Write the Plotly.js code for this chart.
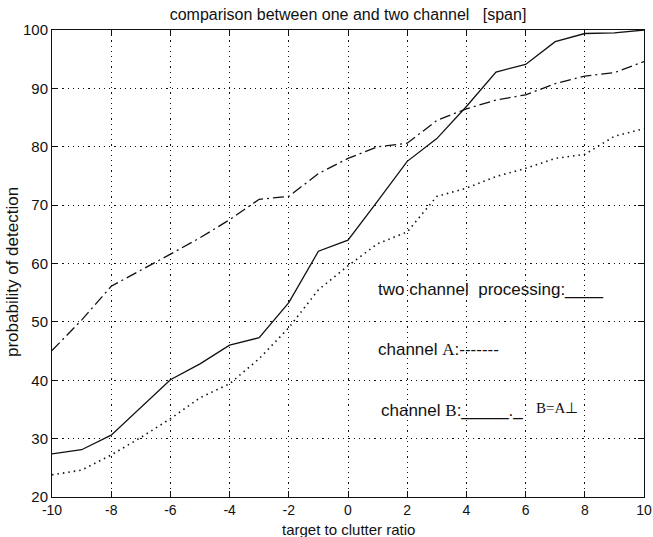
<!DOCTYPE html>
<html>
<head>
<meta charset="utf-8">
<script src="https://cdn.plot.ly/plotly-3.0.1.min.js"></script>
<style>
  html, body { margin: 0; padding: 0; background: #fff; }
  #chart { width: 653px; height: 537px; }
</style>
</head>
<body>
<div id="chart"></div>
<script>
// target to clutter ratio
const ratio = [-10, -9, -8, -7, -6, -5, -4, -3, -2, -1, 0, 1, 2, 3, 4, 5, 6, 7, 8, 9, 10];

// probability of detection for each processing scheme
const twoChannel = [27.4, 28.1, 30.6, 35.3, 40.1, 42.8, 46.0, 47.3, 53.3, 62.1, 64.0,
                    70.7, 77.5, 81.4, 86.9, 92.8, 94.1, 98.0, 99.4, 99.5, 100];
const channelB   = [45.1, 50.3, 56.1, 58.8, 61.6, 64.4, 67.5, 71.0, 71.5, 75.4, 78.0,
                    80.0, 80.6, 84.5, 86.5, 88.0, 88.9, 90.8, 92.1, 92.7, 94.6];
const channelA   = [23.8, 24.6, 27.2, 30.2, 33.4, 37.0, 39.4, 43.7, 49.0, 55.5, 59.6,
                    63.4, 65.4, 71.5, 72.9, 74.9, 76.3, 78.0, 78.7, 81.8, 83.1];

const xTicks = [-10, -8, -6, -4, -2, 0, 2, 4, 6, 8, 10];
const yTicks = [20, 30, 40, 50, 60, 70, 80, 90, 100];

const SANS = 'Liberation Sans, Arial, Helvetica, sans-serif';
const SERIF = 'Liberation Serif, Times New Roman, serif';
const ink = '#111';

const traces = [
  { x: ratio, y: twoChannel, mode: 'lines', line: { color: ink, width: 1.3, dash: 'solid' } },
  { x: ratio, y: channelB,   mode: 'lines', line: { color: ink, width: 1.3, dash: '11px,4px,2px,4px' } },
  { x: ratio, y: channelA,   mode: 'lines', line: { color: ink, width: 1.6, dash: '1.5px,4px' } }
];

const axisCommon = {
  showline: true, linecolor: ink, linewidth: 1, mirror: 'allticks',
  ticks: 'inside', ticklen: 6, tickcolor: ink, tickwidth: 1,
  showgrid: true, gridcolor: ink, gridwidth: 1, griddash: '1.2px,4px',
  zeroline: false
};

const ser = s => '<span style="font-family:' + SERIF + '">' + s + '</span>';
const sans = s => '<span style="font-family:' + SANS + '">' + s + '</span>';

const layout = {
  width: 653, height: 537,
  margin: { l: 52, r: 9, t: 30, b: 40 },
  paper_bgcolor: '#fff', plot_bgcolor: '#fff',
  showlegend: false,
  title: {
    text: 'comparison between one and two channel   [span]',
    font: { family: SANS, size: 16, color: ink },
    xref: 'paper', x: 0.5, xanchor: 'center',
    yref: 'container', y: 1 - 14 / 537, yanchor: 'middle'
  },
  xaxis: Object.assign({}, axisCommon, {
    range: [-10, 10], tickvals: xTicks, ticktext: xTicks.map(String),
    tickfont: { family: SANS, size: 14, color: ink }
  }),
  yaxis: Object.assign({}, axisCommon, {
    range: [20, 100], tickvals: yTicks, ticktext: yTicks.map(String),
    tickfont: { family: SANS, size: 15, color: ink }
  }),
  annotations: [
    { xref: 'paper', yref: 'paper', x: 0.5, y: -(529 - 497) / 467,
      xanchor: 'center', yanchor: 'middle', showarrow: false,
      text: 'target to clutter ratio', font: { family: SANS, size: 15, color: ink } },
    { xref: 'paper', yref: 'paper', x: (12 - 52) / 592, y: (497 - 272) / 467,
      xanchor: 'center', yanchor: 'middle', showarrow: false, textangle: -90,
      text: 'probability of detection', font: { family: SANS, size: 17, color: ink } },
    { xref: 'x', yref: 'y', x: 0.95, y: 55.5, xanchor: 'left', yanchor: 'middle', showarrow: false,
      text: 'two channel  processing:____', font: { family: SANS, size: 17, color: ink } },
    { xref: 'x', yref: 'y', x: 0.95, y: 45.2, xanchor: 'left', yanchor: 'middle', showarrow: false,
      text: 'channel ' + ser('A') + sans(':-------'), font: { family: SANS, size: 17, color: ink } },
    { xref: 'x', yref: 'y', x: 1.05, y: 34.9, xanchor: 'left', yanchor: 'middle', showarrow: false,
      text: 'channel ' + ser('B') + sans(':_____._'), font: { family: SANS, size: 17, color: ink } },
    { xref: 'x', yref: 'y', x: 6.3, y: 35.3, xanchor: 'left', yanchor: 'middle', showarrow: false,
      text: 'B=A\u22A5', font: { family: SERIF, size: 15, color: ink } }
  ]
};

Plotly.newPlot('chart', traces, layout, { displayModeBar: false, staticPlot: true });
</script>
</body>
</html>
